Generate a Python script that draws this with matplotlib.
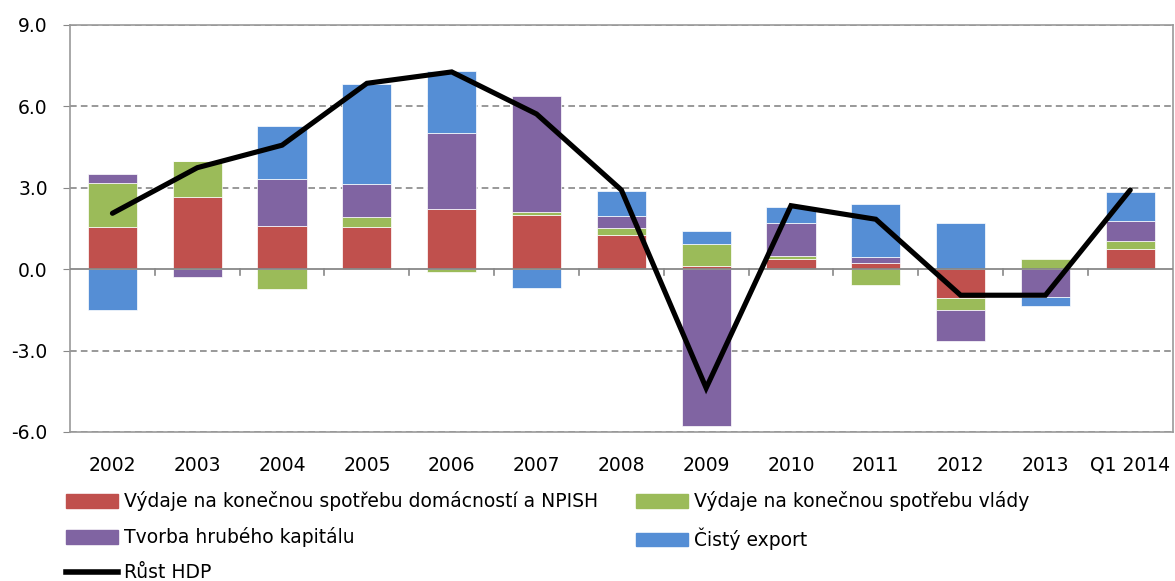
import matplotlib
matplotlib.use("Agg")
import matplotlib.pyplot as plt
import numpy as np
from matplotlib.lines import Line2D
from matplotlib.patches import Patch

plt.rcParams["font.family"] = ["DejaVu Sans"]

categories = ["2002", "2003", "2004", "2005", "2006", "2007", "2008",
              "2009", "2010", "2011", "2012", "2013", "Q1 2014"]

households = [1.55, 2.67, 1.59, 1.57, 2.21, 2.01, 1.27, 0.12, 0.39, 0.24, -1.07, 0.0, 0.74]
government = [1.61, 1.32, -0.74, 0.36, -0.12, 0.10, 0.25, 0.79, 0.09, -0.59, -0.42, 0.37, 0.30]
capital = [0.36, -0.27, 1.73, 1.20, 2.82, 4.28, 0.43, -5.79, 1.21, 0.20, -1.17, -1.04, 0.75]
net_export = [-1.50, 0.0, 1.97, 3.68, 2.29, -0.70, 0.93, 0.49, 0.60, 1.95, 1.69, -0.31, 1.07]
gdp = [2.06, 3.74, 4.57, 6.85, 7.27, 5.72, 2.92, -4.38, 2.34, 1.84, -0.96, -0.96, 2.92]

series_labels = ["Výdaje na konečnou spotřebu domácností a NPISH",
                 "Výdaje na konečnou spotřebu vlády",
                 "Tvorba hrubého kapitálu",
                 "Čistý export"]
gdp_label = "Růst HDP"
colors = ["#C0504D", "#9BBB59", "#8064A2", "#558ED5"]

yticks = [-6.0, -3.0, 0.0, 3.0, 6.0, 9.0]
FS = 13.5

fig = plt.figure(figsize=(11.75, 5.81), dpi=100)
ax = fig.add_axes([0.0596, 0.2565, 0.9384, 0.7005])

x = np.arange(len(categories))
pos_base = np.zeros(len(x))
neg_base = np.zeros(len(x))
for vals, col in zip([households, government, capital, net_export], colors):
    v = np.array(vals)
    bottoms = np.where(v >= 0, pos_base, neg_base)
    ax.bar(x, v, width=0.58, bottom=bottoms, color=col,
           edgecolor="white", linewidth=0.5, zorder=3)
    pos_base += np.where(v >= 0, v, 0)
    neg_base += np.where(v < 0, v, 0)

ax.plot(x, gdp, color="black", lw=3.7, solid_capstyle="round",
        solid_joinstyle="miter", zorder=5)

# zero axis with category boundary ticks
ax.axhline(0, color="#888888", lw=1.3, zorder=4)
for b in x[:-1] + 0.5:
    ax.plot([b, b], [0, -0.22], color="#888888", lw=1.2, zorder=4)

ax.set_xlim(-0.5, len(x) - 0.5)
ax.set_ylim(-6, 9)
ax.set_yticks(yticks)
ax.set_yticklabels([f"{t:.1f}" for t in yticks], fontsize=FS)
ax.set_xticks(x)
ax.set_xticklabels(categories, fontsize=FS)
ax.tick_params(axis="x", length=0, pad=17)
ax.tick_params(axis="y", length=5, color="#888888", pad=11)
for t in yticks:
    if t != 0:
        ax.axhline(t, color="#888888", lw=1.2, ls=(0, (4, 2.5)), zorder=1)
for s in ax.spines.values():
    s.set_color("#999999")
    s.set_linewidth(1.2)

handles = [Patch(color=colors[0]), Patch(color=colors[2]),
           Line2D([0], [0], color="black", lw=4),
           Patch(color=colors[1]), Patch(color=colors[3])]
labels = [series_labels[0], series_labels[2], gdp_label,
          series_labels[1], series_labels[3]]
fig.legend(handles, labels, ncol=2, loc="upper left",
           bbox_to_anchor=(0.05, 0.167), frameon=False, fontsize=FS,
           handlelength=2.77, handleheight=0.75, handletextpad=0.32,
           columnspacing=2.0, labelspacing=0.85, borderaxespad=0)

fig.savefig("out.png", dpi=100)
